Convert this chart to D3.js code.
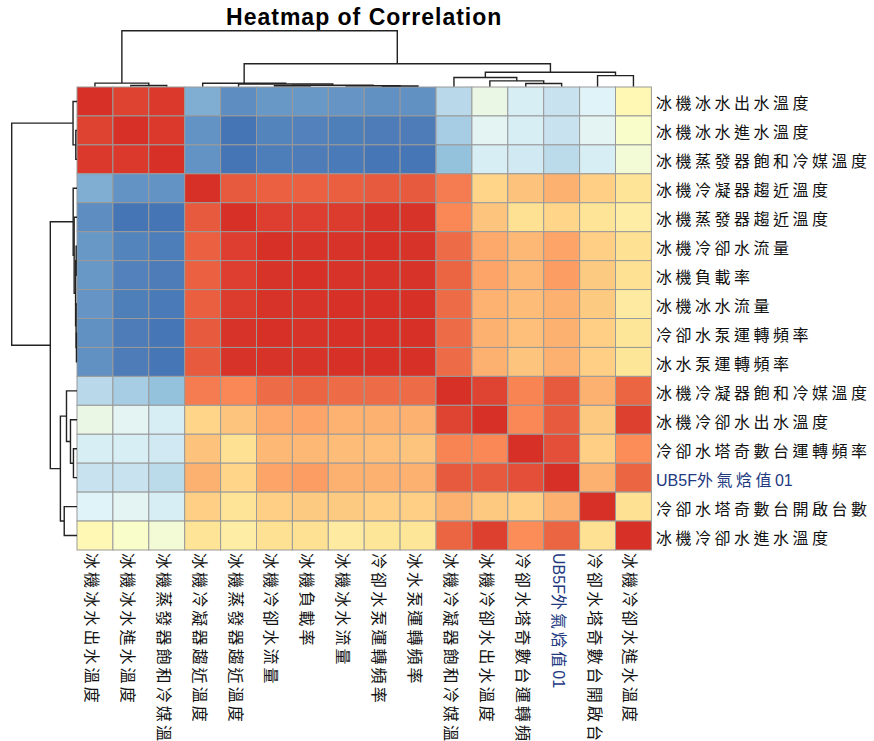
<!DOCTYPE html>
<html>
<head>
<meta charset="utf-8">
<script src="https://cdn.jsdelivr.net/npm/d3@7"></script>
<style>
  body { margin: 0; background: #fff; }
  text { font-family: "Liberation Sans", "Noto Sans CJK TC", sans-serif; }
</style>
</head>
<body>
<div class="chart"></div>
<script>
var svgWidth = 874;
var svgHeight = 741;

// variable names, in dendrogram order (same for rows and columns)
var labels = [
  "冰機冰水出水溫度",
  "冰機冰水進水溫度",
  "冰機蒸發器飽和冷媒溫度",
  "冰機冷凝器趨近溫度",
  "冰機蒸發器趨近溫度",
  "冰機冷卻水流量",
  "冰機負載率",
  "冰機冰水流量",
  "冷卻水泵運轉頻率",
  "冰水泵運轉頻率",
  "冰機冷凝器飽和冷媒溫度",
  "冰機冷卻水出水溫度",
  "冷卻水塔奇數台運轉頻率",
  "UB5F外氣焓值01",
  "冷卻水塔奇數台開啟台數",
  "冰機冷卻水進水溫度"
];

// correlation matrix
var corrValues = [
  [1.00, 0.94, 0.97, -0.57, -0.70, -0.66, -0.66, -0.67, -0.69, -0.69, -0.35, -0.10, -0.23, -0.29, -0.20, 0.17],
  [0.94, 1.00, 0.97, -0.68, -0.80, -0.74, -0.75, -0.76, -0.77, -0.77, -0.42, -0.17, -0.23, -0.29, -0.17, 0.04],
  [0.97, 0.97, 1.00, -0.68, -0.80, -0.765, -0.77, -0.78, -0.795, -0.795, -0.49, -0.23, -0.26, -0.34, -0.23, -0.02],
  [-0.57, -0.68, -0.68, 1.00, 0.865, 0.845, 0.845, 0.85, 0.865, 0.865, 0.755, 0.44, 0.51, 0.57, 0.46, 0.36],
  [-0.70, -0.80, -0.80, 0.865, 1.00, 0.955, 0.955, 0.96, 0.99, 0.99, 0.72, 0.50, 0.39, 0.44, 0.36, 0.27],
  [-0.66, -0.74, -0.765, 0.845, 0.955, 1.00, 0.99, 0.99, 1.00, 0.99, 0.81, 0.60, 0.545, 0.615, 0.46, 0.39],
  [-0.66, -0.75, -0.77, 0.845, 0.955, 0.99, 1.00, 0.99, 0.99, 0.99, 0.83, 0.615, 0.545, 0.64, 0.48, 0.39],
  [-0.67, -0.76, -0.78, 0.85, 0.96, 0.99, 0.99, 1.00, 1.00, 1.00, 0.81, 0.565, 0.53, 0.57, 0.48, 0.30],
  [-0.69, -0.77, -0.795, 0.865, 0.99, 1.00, 0.99, 1.00, 1.00, 1.00, 0.81, 0.57, 0.52, 0.57, 0.46, 0.34],
  [-0.69, -0.77, -0.795, 0.865, 0.99, 0.99, 0.99, 1.00, 1.00, 1.00, 0.81, 0.57, 0.50, 0.57, 0.46, 0.34],
  [-0.35, -0.42, -0.49, 0.755, 0.72, 0.81, 0.83, 0.81, 0.81, 0.81, 1.00, 0.935, 0.73, 0.865, 0.57, 0.83],
  [-0.10, -0.17, -0.23, 0.44, 0.50, 0.60, 0.615, 0.565, 0.57, 0.57, 0.935, 1.00, 0.72, 0.865, 0.485, 0.95],
  [-0.23, -0.23, -0.26, 0.51, 0.39, 0.545, 0.545, 0.53, 0.52, 0.50, 0.73, 0.72, 1.00, 0.90, 0.46, 0.70],
  [-0.29, -0.29, -0.34, 0.57, 0.44, 0.615, 0.64, 0.57, 0.57, 0.57, 0.865, 0.865, 0.90, 1.00, 0.57, 0.83],
  [-0.20, -0.17, -0.23, 0.46, 0.36, 0.46, 0.48, 0.48, 0.46, 0.46, 0.57, 0.485, 0.46, 0.57, 1.00, 0.39],
  [0.17, 0.04, -0.02, 0.36, 0.27, 0.39, 0.39, 0.30, 0.34, 0.34, 0.83, 0.95, 0.70, 0.83, 0.39, 1.00]
];

// hclust style merges: negative = leaf (1-based position), positive = earlier merge
var mergePairs = [
  [-9, -10], [-6, -7], [-8, 1], [-2, -3], [2, 3], [-5, 5], [-13, -14], [-4, 6],
  [-1, 4], [-12, 7], [-11, 10], [-15, -16], [11, 12], [8, 13], [9, 14]
];
var mergeHeights = [0.04, 0.06, 0.066, 0.085, 0.1, 0.2, 0.25, 0.27, 0.28, 0.46, 0.74, 0.9, 1.17, 1.88, 4.6];

// pheatmap default palette: rev(RdYlBu 7)
var colorStops = ["#4575B4", "#91BFDB", "#E0F3F8", "#FFFFBF", "#FEE090", "#FC8D59", "#D73027"];

var svg = d3
  .select(".chart")
  .append("svg")
  .attr("width", svgWidth)
  .attr("height", svgHeight)
  .style("background", "#fff");

var gridLeft = 77, gridRight = 651.4, gridTop = 87, gridBottom = 550;

var xScale = d3.scaleBand().domain(labels).range([gridLeft, gridRight]);
var yScale = d3.scaleBand().domain(labels).range([gridTop, gridBottom]);

var allVals = corrValues.flat();
var vMin = d3.min(allVals), vMax = d3.max(allVals);
var colorScale = d3
  .scaleLinear()
  .domain(colorStops.map((c, i) => vMin + (i * (vMax - vMin)) / (colorStops.length - 1)))
  .range(colorStops)
  .interpolate(d3.interpolateRgb);

// cells
var cells = [];
corrValues.forEach((row, i) => {
  row.forEach((v, j) => cells.push({ r: labels[i], c: labels[j], v: v }));
});

svg
  .append("g")
  .selectAll("rect")
  .data(cells)
  .enter()
  .append("rect")
  .attr("x", (d) => xScale(d.c))
  .attr("y", (d) => yScale(d.r))
  .attr("width", xScale.bandwidth())
  .attr("height", yScale.bandwidth())
  .attr("fill", (d) => colorScale(d.v))
  .attr("stroke", "#9a9a9a")
  .attr("stroke-width", 1);

// dendrograms
var rootH = d3.max(mergeHeights);
var colH = d3.scaleLinear().domain([0, rootH]).range([86.5, 30.7]);
var rowH = d3.scaleLinear().domain([0, rootH]).range([77, 11.7]);

function nodeInfo(idx, centerOf) {
  if (idx < 0) return { pos: centerOf(labels[-idx - 1]), h: 0 };
  var m = mergePairs[idx - 1];
  var a = nodeInfo(m[0], centerOf), b = nodeInfo(m[1], centerOf);
  return { pos: (a.pos + b.pos) / 2, h: mergeHeights[idx - 1], a: a, b: b };
}

var colCenter = (l) => xScale(l) + xScale.bandwidth() / 2;
var rowCenter = (l) => yScale(l) + yScale.bandwidth() / 2;

mergePairs.forEach((m, k) => {
  var node = nodeInfo(k + 1, colCenter);
  svg.append("path")
    .attr("d", `M${node.a.pos},${colH(node.a.h)}V${colH(node.h)}H${node.b.pos}V${colH(node.b.h)}`)
    .attr("fill", "none")
    .attr("stroke", "#222")
    .attr("stroke-width", 1.4);

  var rnode = nodeInfo(k + 1, rowCenter);
  svg.append("path")
    .attr("d", `M${rowH(rnode.a.h)},${rnode.a.pos}H${rowH(rnode.h)}V${rnode.b.pos}H${rowH(rnode.b.h)}`)
    .attr("fill", "none")
    .attr("stroke", "#222")
    .attr("stroke-width", 1.4);
});

// split a label in CJK / latin runs so CJK can get the wide spacing
function addRuns(sel, label, spacing) {
  var runs = label.match(/[\u4e00-\u9fff]+|[^\u4e00-\u9fff]+/g);
  runs.forEach((r) => {
    var t = sel.append("tspan").text(r);
    if (/[\u4e00-\u9fff]/.test(r)) t.style("letter-spacing", spacing + "px");
  });
}

var labelColor = (l) => (l.indexOf("UB5F") === 0 ? "#23397f" : "#111");

// row labels
labels.forEach((l) => {
  var t = svg.append("text")
    .attr("x", 656)
    .attr("y", rowCenter(l) + 2)
    .attr("dominant-baseline", "central")
    .style("font-size", "16px")
    .attr("fill", labelColor(l));
  addRuns(t, l, 3.5);
});

// column labels, rotated
labels.forEach((l) => {
  var t = svg.append("text")
    .attr("transform", `translate(${colCenter(l) - 3},553) rotate(90)`)
    .attr("dominant-baseline", "central")
    .style("font-size", "16px")
    .attr("fill", labelColor(l));
  addRuns(t, l, 3.1);
});

// title
svg.append("text")
  .attr("x", (gridLeft + gridRight) / 2)
  .attr("y", 25)
  .style("text-anchor", "middle")
  .style("font-size", "23px")
  .style("font-weight", "bold")
  .style("letter-spacing", "1px")
  .text("Heatmap of Correlation");
</script>
</body>
</html>
